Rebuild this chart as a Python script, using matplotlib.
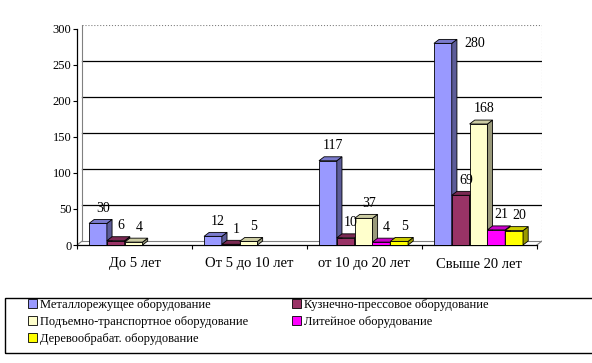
import matplotlib
matplotlib.use('Agg')
import matplotlib.pyplot as plt
from matplotlib.patches import Polygon, Rectangle
import numpy as np

plt.rcParams['font.family'] = ['Liberation Serif', 'DejaVu Serif']

# Data
categories = ['До 5 лет', 'От 5 до 10 лет', 'от 10 до 20 лет', 'Свыше 20 лет']
series_names = ['Металлорежущее оборудование', 'Кузнечно-прессовое оборудование',
                'Подъемно-транспортное оборудование', 'Литейное оборудование',
                'Деревообрабат. оборудование']
metal = [30, 12, 117, 280]
kuzn = [6, 1, 10, 69]
podyem = [4, 5, 37, 168]
liteinoe = [None, None, 4, 21]
derevo = [None, None, 5, 20]
yticks = [0, 50, 100, 150, 200, 250, 300]

values = [metal, kuzn, podyem, liteinoe, derevo]
front = ['#9999FF', '#993366', '#FFFFCC', '#FF00FF', '#FFFF00']
side = ['#5C5C99', '#5C1F3D', '#99997A', '#990099', '#999900']
top = ['#7A7ACC', '#7A2952', '#CCCCA3', '#CC00CC', '#CCCC00']

fig = plt.figure(figsize=(5.92, 3.63), dpi=100)
ax = fig.add_axes([77/592, (363-245)/363, 465/592, 220/363])

dx, dy = 0.045, 5.5
ymax = 300
w = 0.155
off = 0.105
ax.set_xlim(0, 4 + dx)
ax.set_ylim(0, ymax + dy)

# back wall and floor
for v in yticks[1:-1]:
    ax.plot([dx, 4 + dx], [v + dy, v + dy], color='black', lw=0.9, zorder=1)
grey = dict(color='#808080', lw=0.8, zorder=1)
ax.plot([dx, 4 + dx], [ymax + dy, ymax + dy], ls=':', **grey)
ax.plot([4 + dx, 4 + dx], [dy, ymax + dy], ls=':', **grey)
ax.plot([dx, 4 + dx], [dy, dy], **grey)
ax.plot([dx, dx], [dy, ymax + dy], **grey)
ax.plot([0, dx], [0, dy], **grey)
ax.plot([4, 4 + dx], [0, dy], **grey)

# bars with a fake 3D look
for c in range(len(categories)):
    for i, vals in enumerate(values):
        h = vals[c]
        if h is None:
            continue
        x = c + off + i * w
        z = 3 + i * 0.1
        ax.bar(x, h, w, align='edge', color=front[i], edgecolor='black', lw=0.6, zorder=z)
        ax.add_patch(Polygon([(x + w, 0), (x + w + dx, dy), (x + w + dx, h + dy), (x + w, h)],
                             closed=True, fc=side[i], ec='black', lw=0.6, zorder=z))
        ax.add_patch(Polygon([(x, h), (x + w, h), (x + w + dx, h + dy), (x + dx, h + dy)],
                             closed=True, fc=top[i], ec='black', lw=0.6, zorder=z))
        if h > 0.9 * ymax:
            xyt = (19, -3)
        else:
            xyt = (0, 8)
        ax.annotate(str(h), (x + w / 2 + dx, h + dy), xytext=xyt, textcoords='offset points',
                    ha='center', va='center', fontsize=10, zorder=10)

# axes
for s in ['top', 'right']:
    ax.spines[s].set_visible(False)
ax.spines['left'].set_bounds(0, ymax)
ax.spines['bottom'].set_bounds(0, 4)
ax.spines['left'].set_linewidth(0.9)
ax.spines['bottom'].set_linewidth(0.9)
ax.set_yticks(yticks)
ax.set_yticklabels([str(t) for t in yticks], fontsize=9)
ax.tick_params(axis='y', length=3, width=0.8, pad=1)
ax.set_xticks([0.5, 1.5, 2.5, 3.5])
ax.set_xticklabels(categories, fontsize=10.5)
ax.set_xticks([0, 1, 2, 3, 4], minor=True)
ax.tick_params(axis='x', which='major', length=0, pad=9)
ax.tick_params(axis='x', which='minor', length=3, width=0.8)

# legend
fig.patches.append(Rectangle((5/592, (363-352.5)/363), 600/592, 55/363,
                             transform=fig.transFigure, fill=False, ec='black', lw=1))
handles = [Rectangle((0, 0), 1, 1, fc=front[i], ec='black', lw=0.6) for i in range(5)]
order = [0, 2, 4, 1, 3]
fig.legend([handles[i] for i in order], [series_names[i] for i in order],
           ncol=2, loc='upper left', bbox_to_anchor=(28/592, (363-299)/363),
           frameon=False, fontsize=9, borderpad=0, handlelength=0.7, handleheight=0.7,
           handletextpad=0.3, labelspacing=0.4, columnspacing=3.45, borderaxespad=0)

fig.savefig('out.png', dpi=100)
